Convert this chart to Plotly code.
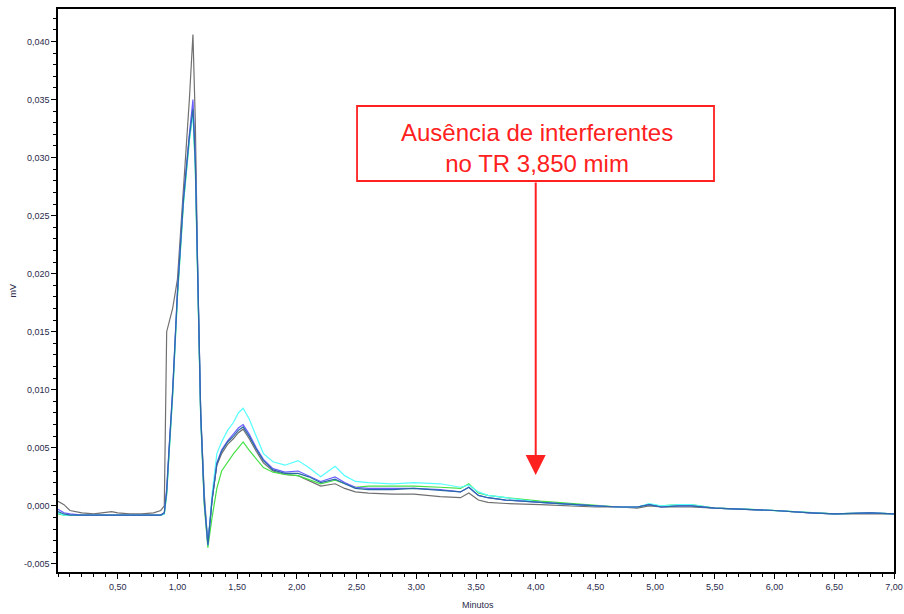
import plotly.graph_objects as go

# Time (minutes)
t = [0.00, 0.05, 0.10, 0.20, 0.30, 0.40, 0.45, 0.50, 0.60, 0.70, 0.80, 0.86, 0.89, 0.91, 0.93, 0.96,
     1.00, 1.05, 1.10, 1.13, 1.15, 1.17, 1.195, 1.225, 1.255, 1.29, 1.33, 1.37, 1.42, 1.47, 1.51, 1.55,
     1.60, 1.66, 1.72, 1.80, 1.90, 2.01, 2.10, 2.20, 2.32, 2.40, 2.49, 2.60, 2.80, 2.98, 3.20, 3.37,
     3.44, 3.52, 3.60, 3.75, 4.04, 4.30, 4.50, 4.70, 4.85, 4.95, 5.05, 5.20, 5.30, 5.50, 5.80, 6.00,
     6.30, 6.50, 6.80, 7.00]

gray = [0.0004, 0.0001, -0.0004, -0.0006, -0.0007, -0.0006, -0.0005, -0.0006, -0.0007, -0.0007, -0.0006, -0.0004, 0.0000, 0.0150, 0.0158, 0.0170,
        0.0195, 0.0270, 0.0350, 0.0406, 0.0330, 0.0200, 0.0080, 0.0010, -0.0033, 0.0005, 0.0035, 0.0045, 0.0053, 0.0058, 0.0063, 0.0066,
        0.0058, 0.0047, 0.0037, 0.0030, 0.0027, 0.0026, 0.0022, 0.0017, 0.0019, 0.0015, 0.0012, 0.0011, 0.0010, 0.0010, 0.0008, 0.0007,
        0.0011, 0.0005, 0.0003, 0.0002, 0.0001, 0.0000, -0.0001, -0.0001, -0.0002, 0.0000, -0.0001, -0.0001, -0.0001, -0.0002, -0.0003, -0.0004,
        -0.0006, -0.0007, -0.0007, -0.0007]

blue = [-0.0003, -0.0006, -0.0007, -0.0008, -0.0008, -0.0008, -0.0008, -0.0008, -0.0008, -0.0008, -0.0008, -0.0008, -0.0006, 0.0015, 0.0050, 0.0100,
        0.0185, 0.0265, 0.0320, 0.0350, 0.0300, 0.0195, 0.0080, 0.0005, -0.0033, 0.0005, 0.0037, 0.0048, 0.0056, 0.0062, 0.0067, 0.0070,
        0.0062, 0.0050, 0.0040, 0.0032, 0.0029, 0.0030, 0.0026, 0.0021, 0.0025, 0.0020, 0.0016, 0.0015, 0.0015, 0.0015, 0.0014, 0.0012,
        0.0016, 0.0009, 0.0007, 0.0005, 0.0003, 0.0001, 0.0000, -0.0001, -0.0001, 0.0001, -0.0001, 0.0000, 0.0000, -0.0002, -0.0003, -0.0004,
        -0.0006, -0.0007, -0.0006, -0.0007]

cyan = [-0.0006, -0.0008, -0.0008, -0.0008, -0.0008, -0.0008, -0.0008, -0.0008, -0.0008, -0.0008, -0.0008, -0.0008, -0.0007, 0.0010, 0.0045, 0.0095,
        0.0180, 0.0260, 0.0315, 0.0338, 0.0290, 0.0190, 0.0075, 0.0005, -0.0034, 0.0010, 0.0045, 0.0055, 0.0065, 0.0072, 0.0080, 0.0084,
        0.0075, 0.0060, 0.0045, 0.0038, 0.0035, 0.0039, 0.0033, 0.0025, 0.0034, 0.0026, 0.0021, 0.0020, 0.0019, 0.0020, 0.0019, 0.0016,
        0.0018, 0.0012, 0.0009, 0.0007, 0.0003, 0.0001, 0.0000, -0.0001, -0.0001, 0.0002, 0.0000, 0.0001, 0.0001, -0.0002, -0.0003, -0.0004,
        -0.0006, -0.0007, -0.0006, -0.0007]

green = [-0.0007, -0.0008, -0.0008, -0.0008, -0.0008, -0.0008, -0.0008, -0.0008, -0.0008, -0.0008, -0.0008, -0.0008, -0.0007, 0.0010, 0.0045, 0.0095,
         0.0180, 0.0260, 0.0315, 0.0340, 0.0290, 0.0190, 0.0075, 0.0000, -0.0036, -0.0010, 0.0015, 0.0030, 0.0038, 0.0045, 0.0050, 0.0055,
         0.0048, 0.0040, 0.0033, 0.0029, 0.0027, 0.0026, 0.0023, 0.0019, 0.0022, 0.0019, 0.0016, 0.0017, 0.0017, 0.0017, 0.0016, 0.0015,
         0.0019, 0.0011, 0.0009, 0.0007, 0.0004, 0.0002, 0.0000, -0.0001, -0.0001, 0.0001, 0.0000, 0.0001, 0.0001, -0.0002, -0.0003, -0.0004,
         -0.0006, -0.0007, -0.0006, -0.0007]

teal = [-0.0005, -0.0007, -0.0008, -0.0008, -0.0008, -0.0008, -0.0008, -0.0008, -0.0008, -0.0008, -0.0008, -0.0008, -0.0006, 0.0012, 0.0048, 0.0098,
        0.0183, 0.0263, 0.0318, 0.0342, 0.0295, 0.0193, 0.0078, 0.0003, -0.0034, 0.0005, 0.0036, 0.0047, 0.0055, 0.0060, 0.0065, 0.0068,
        0.0060, 0.0049, 0.0039, 0.0031, 0.0028, 0.0028, 0.0025, 0.0020, 0.0023, 0.0019, 0.0015, 0.0014, 0.0014, 0.0015, 0.0013, 0.0012,
        0.0016, 0.0009, 0.0007, 0.0005, 0.0003, 0.0001, 0.0000, -0.0001, -0.0001, 0.0001, -0.0001, 0.0000, 0.0000, -0.0002, -0.0003, -0.0004,
        -0.0006, -0.0007, -0.0006, -0.0007]

series = [
    ("gray", gray, "#707070"),
    ("green", green, "#44e044"),
    ("cyan", cyan, "#55ffff"),
    ("blue", blue, "#6a5cff"),
    ("teal", teal, "#2a6aa6"),
]

x_ticks = [0.5, 1.0, 1.5, 2.0, 2.5, 3.0, 3.5, 4.0, 4.5, 5.0, 5.5, 6.0, 6.5, 7.0]
x_labels = ["0,50", "1,00", "1,50", "2,00", "2,50", "3,00", "3,50", "4,00", "4,50", "5,00", "5,50", "6,00", "6,50", "7,00"]
y_ticks = [-0.005, 0.0, 0.005, 0.010, 0.015, 0.020, 0.025, 0.030, 0.035, 0.040]
y_labels = ["-0,005", "0,000", "0,005", "0,010", "0,015", "0,020", "0,025", "0,030", "0,035", "0,040"]

fig = go.Figure()
for name, vals, col in series:
    assert len(vals) == len(t), name
    fig.add_trace(go.Scatter(x=t, y=vals, mode="lines", name=name,
                             line=dict(color=col, width=1.2), showlegend=False))

tickfont = dict(family="Liberation Sans Narrow, Arial Narrow, sans-serif", size=9, color="#2a2a4a")

fig.update_layout(
    width=904, height=614,
    margin=dict(l=58, r=10, t=9, b=42, autoexpand=False),
    paper_bgcolor="white", plot_bgcolor="white",
    xaxis=dict(range=[0, 7.0], tickmode="array", tickvals=x_ticks, ticktext=x_labels,
               ticks="outside", ticklen=5, tickwidth=1, tickcolor="black", automargin=False,
               minor=dict(tick0=0, dtick=0.1, ticks="outside", ticklen=3, tickcolor="black"),
               showline=True, linecolor="black", linewidth=1.5, mirror=True,
               showgrid=False, zeroline=False, tickfont=tickfont),
    yaxis=dict(range=[-0.0057, 0.0428], tickmode="array", tickvals=y_ticks, ticktext=y_labels,
               ticks="outside", ticklen=5, tickwidth=1, tickcolor="black", automargin=False,
               minor=dict(tick0=0, dtick=0.001, ticks="outside", ticklen=3, tickcolor="black"),
               showline=True, linecolor="black", linewidth=1.5, mirror=True,
               showgrid=False, zeroline=False, tickfont=tickfont),
)

# Axis titles
fig.add_annotation(text="mV", xref="paper", yref="paper", x=-0.055, y=0.50, textangle=-90,
                   xanchor="center", yanchor="middle",
                   showarrow=False, font=dict(family="Liberation Sans Narrow, sans-serif", size=9, color="#2a2a4a"))
fig.add_annotation(text="Minutos", xref="paper", yref="paper", x=0.502, y=-0.059,
                   xanchor="center", yanchor="middle",
                   showarrow=False, font=dict(family="Liberation Sans Narrow, sans-serif", size=9, color="#2a2a4a"))

# Red box with text
fig.add_shape(type="rect", xref="paper", yref="paper", x0=0.3577, x1=0.7847, y0=0.6945, y1=0.8277,
              line=dict(color="#ff2020", width=1.8), fillcolor="rgba(0,0,0,0)")
fig.add_annotation(text="Ausência de interferentes<br>no TR 3,850 mim", xref="paper", yref="paper",
                   x=0.5725, y=0.753, xanchor="center", yanchor="middle", showarrow=False, align="center",
                   font=dict(family="Liberation Sans, Arial, sans-serif", size=24, color="#ff2020"))
# Arrow
fig.add_annotation(x=4.0, y=0.00266, xref="x", yref="y", ax=0, ay=-294, text="",
                   showarrow=True, arrowhead=2, arrowsize=2.0, arrowwidth=2, arrowcolor="#ff2020")

fig.write_html("out.html")
